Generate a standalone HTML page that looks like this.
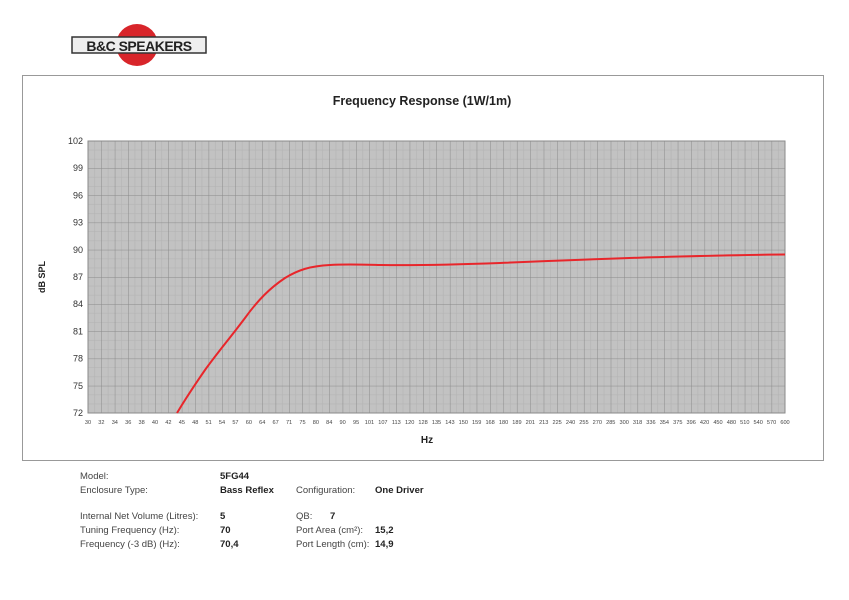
<!DOCTYPE html>
<html><head><meta charset="utf-8"><style>
body{margin:0;background:#fff;width:849px;height:600px;overflow:hidden;font-family:"Liberation Sans",sans-serif}
.t{position:absolute;font-size:9.5px;color:#444;white-space:nowrap}
.b{font-weight:bold;color:#222}
</style></head><body>
<svg width="849" height="600" style="position:absolute;left:0;top:0" xmlns="http://www.w3.org/2000/svg">
<defs>
<pattern id="g" x="88" y="141" width="13.404" height="27.2" patternUnits="userSpaceOnUse">
<rect width="13.404" height="27.2" fill="#c2c2c2"/>
<line x1="6.7" y1="0" x2="6.7" y2="27.2" stroke="#b4b4b4" stroke-width="0.6"/>
<line x1="0" y1="9.07" x2="13.404" y2="9.07" stroke="#b4b4b4" stroke-width="0.6"/>
<line x1="0" y1="18.13" x2="13.404" y2="18.13" stroke="#b4b4b4" stroke-width="0.6"/>
<line x1="0" y1="0" x2="0" y2="27.2" stroke="#8a8a8a" stroke-width="1"/>
<line x1="0" y1="0" x2="13.404" y2="0" stroke="#8a8a8a" stroke-width="1"/>
</pattern>
</defs>
<rect x="22.5" y="75.5" width="801" height="385" fill="#fff" stroke="#999"/>
<circle cx="137" cy="45" r="21" fill="#d8252a"/>
<rect x="72" y="37" width="134" height="16" fill="#eee" stroke="#333" stroke-width="1.5"/>
<text x="139" y="51" text-anchor="middle" font-family="Liberation Sans" font-weight="bold" font-size="14" fill="#222" letter-spacing="-0.5">B&amp;C SPEAKERS</text>
<text x="422" y="105" text-anchor="middle" font-family="Liberation Sans" font-weight="bold" font-size="12.5" fill="#222">Frequency Response (1W/1m)</text>
<rect x="88" y="141" width="697" height="272" fill="url(#g)"/>
<rect x="88" y="141" width="697" height="272" fill="none" stroke="#8a8a8a"/>
<g id="yl" font-family="Liberation Sans" font-size="9" fill="#333" text-anchor="end"></g>
<g id="xl" font-family="Liberation Sans" font-size="5.6" fill="#444" text-anchor="middle"></g>
<text x="45" y="277" transform="rotate(-90 45 277)" text-anchor="middle" font-family="Liberation Sans" font-weight="bold" font-size="9" fill="#222">dB SPL</text>
<text x="427" y="443" text-anchor="middle" font-family="Liberation Sans" font-weight="bold" font-size="10" fill="#222">Hz</text>
<path d="M177,413 C186,398 196,383 205,370 C218,352 230,338 245,318 C258,300 270,288 285,278 C298,270 310,266 330,265 C345,264 360,264.5 380,265 C420,265.5 460,264.5 500,263 C560,260.5 620,258 680,256.5 C720,255.5 760,254.5 785,254.5" fill="none" stroke="#e8262b" stroke-width="2"/>
</svg>
<div class="t" style="left:80px;top:471px">Model:</div>
<div class="t b" style="left:220px;top:471px">5FG44</div>
<div class="t" style="left:80px;top:485px">Enclosure Type:</div>
<div class="t b" style="left:220px;top:485px">Bass Reflex</div>
<div class="t" style="left:296px;top:485px">Configuration:</div>
<div class="t b" style="left:375px;top:485px">One Driver</div>
<div class="t" style="left:80px;top:511px">Internal Net Volume (Litres):</div>
<div class="t b" style="left:220px;top:511px">5</div>
<div class="t" style="left:296px;top:511px">QB:</div>
<div class="t b" style="left:330px;top:511px">7</div>
<div class="t" style="left:80px;top:525px">Tuning Frequency (Hz):</div>
<div class="t b" style="left:220px;top:525px">70</div>
<div class="t" style="left:296px;top:525px">Port Area (cm²):</div>
<div class="t b" style="left:375px;top:525px">15,2</div>
<div class="t" style="left:80px;top:539px">Frequency (-3 dB) (Hz):</div>
<div class="t b" style="left:220px;top:539px">70,4</div>
<div class="t" style="left:296px;top:539px">Port Length (cm):</div>
<div class="t b" style="left:375px;top:539px">14,9</div>
<script>
var ns="http://www.w3.org/2000/svg";
var yl=document.getElementById("yl");
for(var i=0;i<=10;i++){var t=document.createElementNS(ns,"text");t.setAttribute("x",83);t.setAttribute("y",413-i*27.2+3);t.textContent=72+i*3;yl.appendChild(t);}
var xs=[30,32,34,36,38,40,42,45,48,51,54,57,60,64,67,71,75,80,84,90,95,101,107,113,120,128,135,143,150,159,168,180,189,201,213,225,240,255,270,285,300,318,336,354,375,396,420,450,480,510,540,570,600];
var xl=document.getElementById("xl");
for(var j=0;j<xs.length;j++){var t=document.createElementNS(ns,"text");t.setAttribute("x",88+j*13.404);t.setAttribute("y",424);t.textContent=xs[j];xl.appendChild(t);}
</script>
</body></html>
